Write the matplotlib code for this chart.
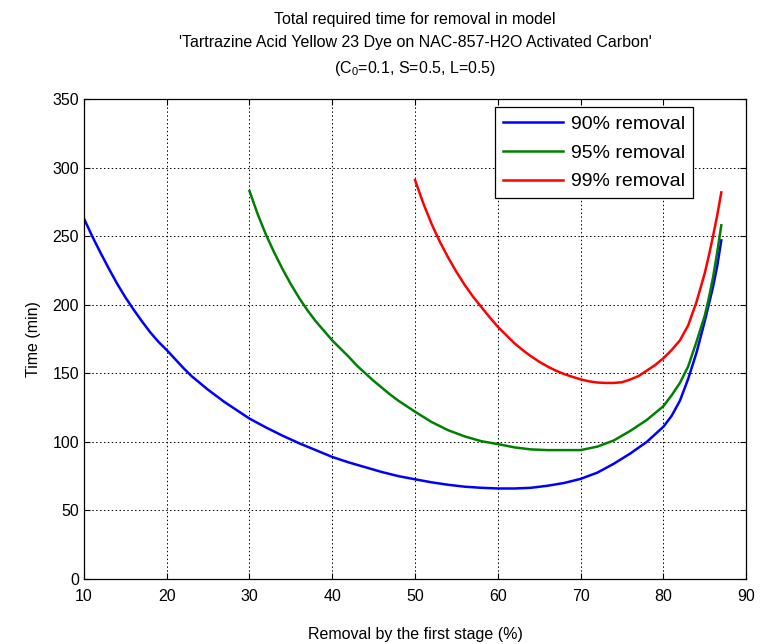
import matplotlib
matplotlib.use("Agg")
import matplotlib.pyplot as plt

plt.rcParams['font.family'] = ['Liberation Sans', 'DejaVu Sans']
plt.rcParams['mathtext.fontset'] = 'custom'
plt.rcParams['mathtext.rm'] = 'Liberation Sans'
plt.rcParams['mathtext.it'] = 'Liberation Sans'
plt.rcParams['mathtext.default'] = 'regular'

# --- data ---
x_90 = [10, 11, 12, 13, 14, 15, 16, 17, 18, 19, 20, 21, 22, 23, 24, 25, 26,
        27, 28, 29, 30, 32, 34, 36, 38, 40, 42, 44, 46, 48, 50, 52, 54, 56,
        58, 60, 62, 64, 66, 68, 70, 72, 74, 76, 78, 80, 81, 82, 83, 84, 85,
        86, 86.5, 87]
t_90 = [263, 250, 238, 226.5, 215.5, 205.5, 196.5, 188, 180, 173, 167, 160.5,
        154, 148, 143, 138, 133.5, 129, 125, 121, 117, 110.5, 104.5, 99, 94,
        89, 85, 81.5, 78, 75, 72.7, 70.5, 68.7, 67.3, 66.5, 66, 66, 66.5, 68,
        70, 73, 77.5, 84, 91.5, 100, 111, 119, 130, 146, 165, 188, 213, 228,
        247]

x_95 = [30, 31, 32, 33, 34, 35, 36, 37, 38, 39, 40, 41, 42, 43, 44, 45, 46,
        47, 48, 49, 50, 52, 54, 56, 58, 60, 62, 64, 66, 68, 70, 72, 74, 76,
        78, 80, 81, 82, 83, 84, 85, 85.5, 86, 86.5, 87]
t_95 = [283, 266, 251, 238, 226, 215, 205, 196, 188, 181, 174, 168, 162,
        155.5, 150, 144.5, 139.5, 134.5, 130, 126, 122, 114.5, 108.5, 104,
        100.5, 98.4, 96, 94.5, 94, 94, 94, 96.5, 101, 108, 116, 126, 134, 143,
        155, 173, 192, 205, 220, 238, 258]

x_99 = [50, 51, 52, 53, 54, 55, 56, 57, 58, 59, 60, 61, 62, 63, 64, 65, 66,
        67, 68, 69, 70, 71, 72, 73, 74, 75, 76, 77, 78, 79, 80, 81, 82, 83,
        84, 85, 85.5, 86, 86.5, 87]
t_99 = [291, 274, 259, 246, 234.5, 224, 214.5, 206, 198.5, 191, 184, 178,
        172, 167, 162.5, 158.5, 155, 152, 149.5, 147.5, 145.6, 144.2, 143.3,
        143, 143, 143.5, 145.5, 148, 152, 156, 161, 167, 174, 185, 202, 223,
        236, 250, 265, 282]

series = [
    (x_90, t_90, "blue", "90% removal"),
    (x_95, t_95, "green", "95% removal"),
    (x_99, t_99, "red", "99% removal"),
]

fig = plt.figure(figsize=(7.7, 6.44), dpi=100)
ax = fig.add_axes([0.109, 0.101, 0.860, 0.745])

for xs, ys, col, lab in series:
    ax.plot(xs, ys, color=col, lw=1.8, label=lab)

ax.set_xlim(10, 90)
ax.set_ylim(0, 350)
ax.set_xticks(range(10, 91, 10))
ax.set_yticks(range(0, 351, 50))
ax.grid(True, color='black', ls=(0, (1.5, 2.5)), lw=0.7)
ax.tick_params(direction='in', top=True, right=True, labelsize=11.5, length=4)
ax.tick_params(axis='x', pad=7)
for sp in ax.spines.values():
    sp.set_linewidth(0.9)

ax.set_xlabel("Removal by the first stage (%)", fontsize=11.5, labelpad=17)
ax.set_ylabel("Time (min)", fontsize=11.5, labelpad=8)
ax.set_title("Total required time for removal in model\n"
             "'Tartrazine Acid Yellow 23 Dye on NAC-857-H2O Activated Carbon'\n"
             r"(C$_0$=0.1, S=0.5, L=0.5)",
             fontsize=11.5, linespacing=1.65, pad=19)

leg = ax.legend(loc='upper right', bbox_to_anchor=(0.92, 0.983),
                fontsize=14, fancybox=False, edgecolor='black', framealpha=1,
                borderaxespad=0, borderpad=0.4, handlelength=3.1,
                handletextpad=0.4, labelspacing=0.58)
leg.get_frame().set_linewidth(0.9)

fig.savefig("out.png", dpi=100)
